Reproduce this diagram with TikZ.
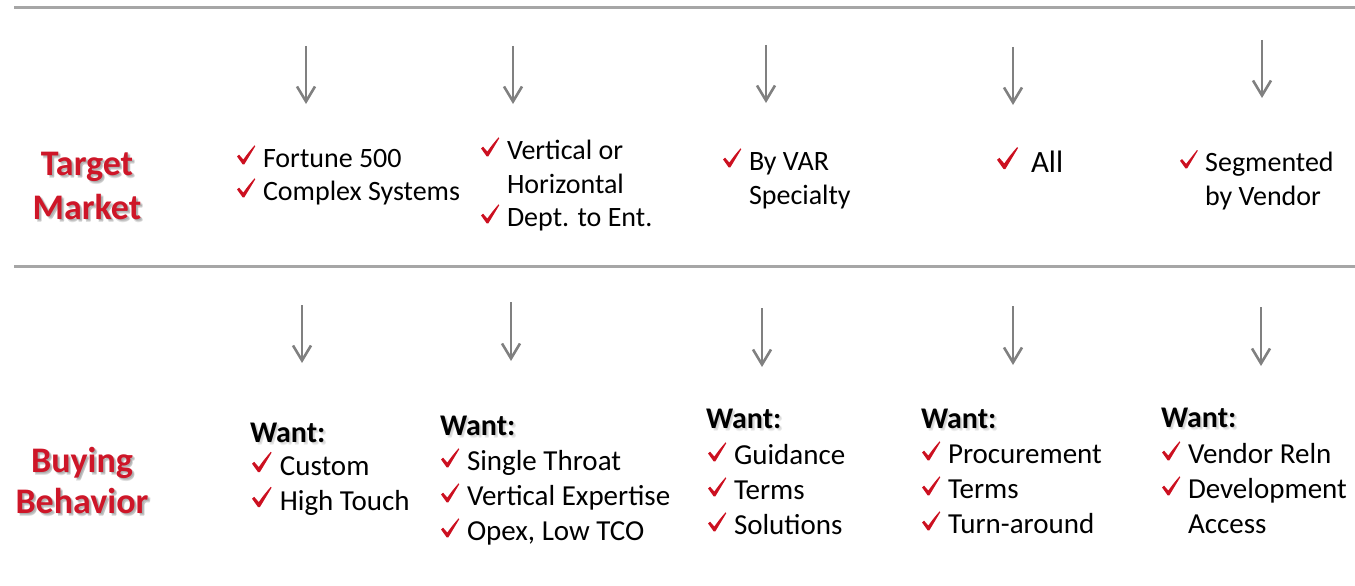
\documentclass[tikz,border=0pt]{standalone}
\usepackage{fontspec}
\setmainfont{Carlito}
\usetikzlibrary{arrows.meta}

\definecolor{hdred}{RGB}{206,22,40}
\definecolor{tickred}{RGB}{204,16,32}
\definecolor{arrowgray}{RGB}{128,128,128}
\definecolor{rulegray}{RGB}{166,166,166}

% a red check mark followed by its item text
\newcommand\tickitem[6]{%
  \pic[scale=#1] at (#3,#5) {tick};
  \node[#2] (#4) at ({#3+26*#1},#5) {#6};}

% text with a soft drop shadow behind it: style, name, x, y, opacity, text
\newcommand\shadowed[6]{%
  \foreach \dx/\dy [count=\k] in {1.5/1.6,2.6/2.6,2.1/3.3}
    \node[#1, text=black, text opacity=#5] (#2sh\k) at ({#3+\dx},{#4+\dy}) {#6};
  \node[#1] (#2) at (#3,#4) {#6};
}

\begin{document}
\begin{tikzpicture}[x=1pt,y=-1pt,
  every node/.style={inner sep=0pt, outer sep=0pt},
  topitem/.style={anchor=base west, font=\fontsize{28}{34}\selectfont},
  allitem/.style={anchor=base west, font=\fontsize{31}{37}\selectfont},
  botitem/.style={anchor=base west, font=\fontsize{29}{35}\selectfont},
  wanthead/.style={anchor=base west, font=\fontsize{30}{36}\selectfont\bfseries},
  rowhead/.style={anchor=base, font=\fontsize{36}{44}\selectfont\bfseries, text=hdred},
  flow/.style={draw=arrowgray, line width=2.6pt,
    -{Straight Barb[length=15pt,width=18pt]}},
  divider/.style={draw=rulegray, line width=3pt},
  tick/.pic={\fill[tickred]
    (0,-10.6) .. controls (1,-11.6) .. (2.1,-12.3) -- (6.3,-7.4)
    .. controls (11,-14) .. (17.5,-21.6) -- (18.3,-20.9)
    .. controls (12,-12) .. (7.3,-2.6) -- (5.7,-2.6) -- cycle;}
]
\useasboundingbox (0,0) rectangle (1355,586);

% dividers
\coordinate (r1a) at (14,8);   \coordinate (r1b) at (1355,8);
\coordinate (r2a) at (14,266); \coordinate (r2b) at (1355,266);
\draw[divider] (r1a) -- (r1b);
\draw[divider] (r2a) -- (r2b);

% row headings
\shadowed{rowhead}{target}{87}{175}{0.12}{Target}
\shadowed{rowhead}{market}{87}{219}{0.12}{Market}
\shadowed{rowhead}{buying}{82}{472}{0.12}{Buying}
\shadowed{rowhead}{behavior}{82}{513}{0.12}{Behavior}

% upper arrows
\foreach \x/\ya/\yb [count=\i] in {306/46/104, 513/46/104, 766/45/103, 1013/47/105, 1262/40/98}{
  \coordinate (ua\i) at (\x,\ya);
  \coordinate (ub\i) at (\x,\yb);
  \draw[flow] (ua\i) -- (ub\i);
}

% lower arrows
\foreach \x/\ya/\yb [count=\i] in {302/305/363, 511/302/361, 762/308/367, 1013/306/365, 1261/307/366}{
  \coordinate (la\i) at (\x,\ya);
  \coordinate (lb\i) at (\x,\yb);
  \draw[flow] (la\i) -- (lb\i);
}

% target market entries
\tickitem{1}{topitem}{237}{fortune}{167}{Fortune 500}
\tickitem{1}{topitem}{237}{complex}{200}{Complex Systems}
\tickitem{1}{topitem}{481}{vertor}{159}{Vertical or}
\node[topitem] (horiz) at (507,193) {Horizontal};
\tickitem{1}{topitem}{481}{dept}{226}{Dept. to Ent.}
\tickitem{1}{topitem}{723}{byvar}{170}{By VAR}
\node[topitem] (specialty) at (749,204) {Specialty};
\pic[scale=1.15] at (997,172) {tick};
\node[allitem] (all) at (1031,172) {All};
\tickitem{0.97}{topitem}{1180}{segmented}{171}{Segmented}
\node[topitem] (byvendor) at (1205,205) {by Vendor};

% buying behavior entries
\shadowed{wanthead}{wantA}{250}{442}{0.06}{Want:}
\shadowed{wanthead}{wantB}{440}{435}{0.06}{Want:}
\shadowed{wanthead}{wantC}{706}{428}{0.06}{Want:}
\shadowed{wanthead}{wantD}{921}{428}{0.06}{Want:}
\shadowed{wanthead}{wantE}{1161}{427}{0.06}{Want:}

\tickitem{1.07}{botitem}{252}{custom}{475}{Custom}
\tickitem{1.07}{botitem}{252}{hightouch}{510}{High Touch}

\tickitem{1}{botitem}{441}{single}{470}{Single Throat}
\tickitem{1}{botitem}{441}{vexpert}{505}{Vertical Expertise}
\tickitem{1}{botitem}{441}{opex}{540}{Opex, Low TCO}

\tickitem{1}{botitem}{708}{guidance}{464}{Guidance}
\tickitem{1}{botitem}{708}{termsA}{499}{Terms}
\tickitem{1}{botitem}{708}{solutions}{534}{Solutions}

\tickitem{1}{botitem}{922}{procure}{463}{Procurement}
\tickitem{1}{botitem}{922}{termsB}{498}{Terms}
\tickitem{1}{botitem}{922}{turn}{533}{Turn-around}

\tickitem{1}{botitem}{1162}{vendor}{463}{Vendor Reln}
\tickitem{1}{botitem}{1162}{develop}{498}{Development}
\node[botitem] (access) at (1188,533) {Access};
\end{tikzpicture}
\end{document}
